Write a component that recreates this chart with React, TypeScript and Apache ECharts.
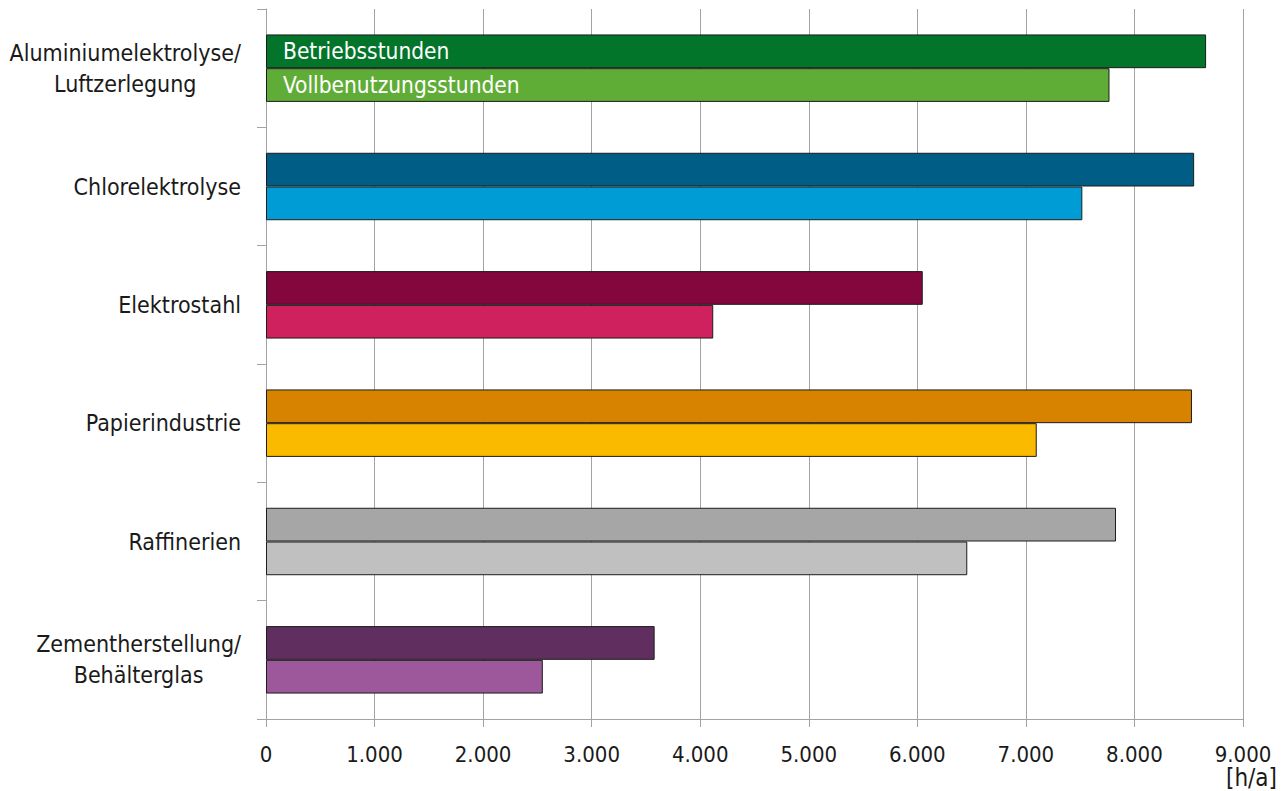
import React, { useEffect, useRef } from "react";
import * as echarts from "echarts";

// Industrial processes, listed top to bottom
const categories = [
  "Aluminiumelektrolyse/\nLuftzerlegung",
  "Chlorelektrolyse",
  "Elektrostahl",
  "Papierindustrie",
  "Raffinerien",
  "Zementherstellung/\nBehälterglas",
];

// Operating hours per year [h/a]
const betriebsstunden = [8660, 8550, 6050, 8530, 7830, 3580];
// Full-load hours per year [h/a]
const vollbenutzungsstunden = [7770, 7520, 4120, 7100, 6460, 2550];

// Colour pairs per process (dark = Betriebsstunden, light = Vollbenutzungsstunden)
const darkColors = ["#03752A", "#005E86", "#83063C", "#D88300", "#A6A6A6", "#612F5F"];
const lightColors = ["#5FAD36", "#009CD6", "#CE215D", "#FABA00", "#C0C0C0", "#9D579B"];

const seriesNames = ["Betriebsstunden", "Vollbenutzungsstunden"];
const xTicks = { min: 0, max: 9000, interval: 1000 };
const unitLabel = "[h/a]";

const FONT = "'DejaVu Sans Condensed', 'DejaVu Sans', sans-serif";
const TEXT = "#1a1a1a";
const GRID_GRAY = "#a3a3a3";

const thousands = (v: number) =>
  String(v).replace(/\B(?=(\d{3})+(?!\d))/g, ".");

function buildSeriesData(values: number[], colors: string[]) {
  return values.map((v, i) => ({
    value: v,
    itemStyle: { color: colors[i] },
    label: { show: i === 0 },
  }));
}

export default function App() {
  const ref = useRef<HTMLDivElement>(null);

  useEffect(() => {
    if (!ref.current) return;
    const chart = echarts.init(ref.current, undefined, { renderer: "svg" });

    const barLabel = {
      show: false,
      position: "insideLeft",
      distance: 17,
      formatter: "{a}",
      color: "#ffffff",
      fontFamily: FONT,
      fontSize: 22.5,
    };

    chart.setOption({
      animation: false,
      backgroundColor: "#ffffff",
      grid: {
        left: 266,
        right: 45,
        top: 9,
        bottom: 72,
        containLabel: false,
        outerBoundsMode: "none",
      },
      xAxis: {
        type: "value",
        min: xTicks.min,
        max: xTicks.max,
        interval: xTicks.interval,
        axisLine: { show: true, lineStyle: { color: GRID_GRAY, width: 1 } },
        axisTick: { show: true, length: 8, lineStyle: { color: GRID_GRAY } },
        splitLine: { show: true, lineStyle: { color: GRID_GRAY, width: 1 } },
        axisLabel: {
          margin: 25,
          color: TEXT,
          fontFamily: FONT,
          fontSize: 22,
          lineHeight: 20,
          formatter: (v: number) => thousands(v),
        },
      },
      yAxis: {
        type: "category",
        inverse: true,
        data: categories,
        axisLine: { show: true, lineStyle: { color: GRID_GRAY, width: 1 } },
        axisTick: { show: true, length: 9, lineStyle: { color: GRID_GRAY } },
        axisLabel: {
          margin: 25,
          formatter: (v: string) =>
            v.split("\n").map((line) => `{c|${line}}`).join("\n"),
          rich: {
            c: {
              align: "center",
              color: TEXT,
              fontFamily: FONT,
              fontSize: 23,
              lineHeight: 31,
            },
          },
        },
      },
      series: [
        {
          name: seriesNames[0],
          type: "bar",
          barGap: "0%",
          barCategoryGap: "43%",
          data: buildSeriesData(betriebsstunden, darkColors),
          itemStyle: { borderColor: "#1c1c1c", borderWidth: 1 },
          label: barLabel,
        },
        {
          name: seriesNames[1],
          type: "bar",
          barGap: "0%",
          barCategoryGap: "43%",
          data: buildSeriesData(vollbenutzungsstunden, lightColors),
          itemStyle: { borderColor: "#1c1c1c", borderWidth: 1 },
          label: barLabel,
        },
      ],
      graphic: [
        {
          type: "text",
          right: 11,
          top: 766,
          style: {
            text: unitLabel,
            fill: TEXT,
            font: `24px ${FONT}`,
            textAlign: "right",
          },
        },
      ],
    });

    return () => chart.dispose();
  }, []);

  return (
    <div
      ref={ref}
      style={{ position: "fixed", left: 0, top: 0, width: 1288, height: 791 }}
    />
  );
}
